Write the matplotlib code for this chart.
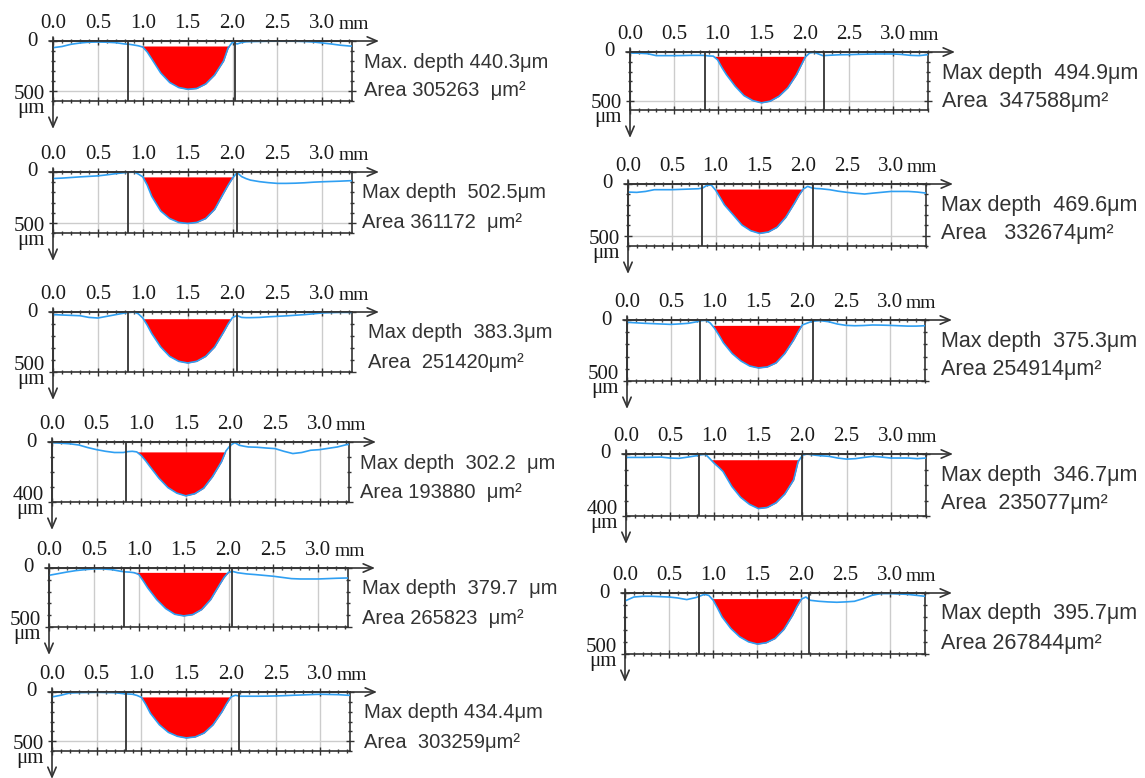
import matplotlib.pyplot as plt
from matplotlib.ticker import MultipleLocator

# shared sampling positions along the profile (mm)
x_mm = [0.0, 0.1, 0.2, 0.3, 0.4, 0.5, 0.6, 0.7, 0.8, 0.85, 0.9, 0.95, 1.0, 1.05,
        1.1, 1.2, 1.3, 1.4, 1.5, 1.6, 1.7, 1.8, 1.9, 1.95, 2.0, 2.05, 2.1, 2.15,
        2.2, 2.3, 2.4, 2.5, 2.6, 2.7, 2.8, 2.9, 3.0, 3.1, 3.2, 3.3, 3.4]

# depth profiles (um), left column
depth_a1 = [67, 55, 33, 20, 12, 10, 12, 17, 30, 33, 40, 48, 60, 110, 180, 320, 415, 465, 483, 475, 430,
            340, 200, 70, 10, 30, 15, 8, 6, 4, 2, 0, 0, 2, 5, 10, 20, 30, 42, 50, 55]
depth_a2 = [64, 60, 54, 48, 43, 38, 28, 16, 6, 3, 0, 20, 48, 130, 240, 384, 458, 496, 506, 496, 458,
            368, 208, 130, 60, 6, 45, 65, 80, 95, 105, 112, 112, 110, 106, 100, 96, 93, 90, 86, 85]
depth_a3 = [22, 25, 28, 31, 45, 50, 36, 22, 8, 4, 0, 15, 50, 110, 180, 292, 370, 411, 425, 411, 370,
            292, 167, 100, 45, 30, 45, 47, 47, 45, 40, 36, 32, 27, 22, 15, 8, 5, 3, 3, 3]
depth_a4 = [4, 8, 12, 20, 37, 51, 62, 70, 70, 64, 62, 66, 90, 125, 165, 242, 304, 341, 359, 345, 308,
            231, 132, 60, 22, 4, 22, 28, 33, 35, 40, 44, 62, 77, 70, 55, 51, 42, 33, 18, 11]
depth_a5 = [62, 48, 34, 22, 14, 8, 8, 14, 28, 33, 35, 40, 55, 110, 169, 268, 344, 392, 406, 395, 352,
            268, 141, 80, 36, 30, 40, 45, 50, 56, 63, 70, 80, 90, 93, 93, 93, 90, 87, 85, 85]
depth_a6 = [50, 33, 10, 7, 5, 3, 5, 7, 17, 20, 23, 35, 55, 130, 217, 333, 410, 450, 467, 457, 417,
            333, 200, 120, 50, 33, 43, 43, 43, 43, 42, 40, 37, 33, 30, 26, 23, 25, 27, 33, 35]
# right column
depth_b1 = [10, 12, 17, 37, 37, 37, 36, 34, 34, 35, 40, 42, 80, 160, 230, 348, 443, 494, 517, 500, 450,
            365, 230, 140, 51, 10, 3, 20, 37, 32, 28, 27, 24, 22, 20, 20, 20, 25, 34, 37, 27]
depth_b2 = [78, 81, 72, 55, 55, 55, 52, 49, 46, 40, 13, 10, 60, 130, 202, 299, 397, 452, 478, 465, 419,
            322, 185, 110, 49, 23, 39, 44, 46, 55, 70, 81, 90, 97, 88, 80, 72, 72, 72, 78, 88]
depth_b3 = [19, 23, 27, 30, 33, 36, 32, 27, 14, 5, 2, 25, 69, 125, 187, 275, 336, 377, 393, 385, 352,
            275, 165, 100, 41, 27, 14, 8, 5, 14, 33, 44, 47, 45, 41, 42, 44, 47, 50, 50, 47]
depth_b4 = [22, 22, 22, 21, 20, 26, 28, 20, 11, 5, 2, 30, 60, 85, 113, 210, 280, 325, 352, 345, 315,
            258, 167, 50, 8, 0, 4, 8, 11, 15, 26, 33, 30, 22, 15, 20, 26, 26, 26, 30, 26]
depth_b5 = [65, 33, 27, 27, 30, 33, 41, 54, 38, 25, 11, 20, 60, 125, 196, 291, 359, 400, 419, 408, 373,
            299, 182, 110, 50, 33, 60, 64, 68, 73, 76, 73, 68, 46, 19, 5, 5, 8, 11, 19, 27]

# reference level of the red area (um)
ref_a = [50, 48, 56, 66, 37, 50]
ref_b = [44, 49, 44, 37, 46]
# depth range of each panel and the labelled depth
ybot_a = [600, 600, 500, 400, 500, 600]
ybot_b = [590, 600, 500, 400, 500]
ylab_a = [500, 500, 500, 400, 500, 500]
ylab_b = [500, 500, 500, 400, 500]
# cursor lines (mm)
marks_a = [(0.83, 2.03), (0.83, 2.05), (0.83, 2.05), (0.83, 2.0), (0.84, 2.04), (0.83, 2.09)]
marks_b = [(0.85, 2.21), (0.84, 2.11), (0.83, 2.12), (0.83, 2.0), (0.84, 2.08)]

depth_text_a = ['Max. depth 440.3\u03bcm', 'Max depth  502.5\u03bcm', 'Max depth  383.3\u03bcm',
                'Max depth  302.2  \u03bcm', 'Max depth  379.7  \u03bcm', 'Max depth 434.4\u03bcm']
area_text_a = ['Area 305263  \u03bcm\u00b2', 'Area 361172  \u03bcm\u00b2', 'Area  251420\u03bcm\u00b2',
               'Area 193880  \u03bcm\u00b2', 'Area 265823  \u03bcm\u00b2', 'Area  303259\u03bcm\u00b2']
depth_text_b = ['Max depth  494.9\u03bcm', 'Max depth  469.6\u03bcm', 'Max depth  375.3\u03bcm',
                'Max depth  346.7\u03bcm', 'Max depth  395.7\u03bcm']
area_text_b = ['Area  347588\u03bcm\u00b2', 'Area   332674\u03bcm\u00b2', 'Area 254914\u03bcm\u00b2',
               'Area  235077\u03bcm\u00b2', 'Area 267844\u03bcm\u00b2']

# layout in pixels: left, top, right, bottom
boxes_a = [(53, 41, 352, 101), (53, 172, 352, 233), (53, 312, 352, 372),
           (52, 442, 349, 502), (49, 568, 348, 627), (52, 692, 350, 751)]
boxes_b = [(630, 52, 928, 110), (628, 184, 926, 246), (627, 320, 925, 381),
           (626, 454, 926, 516), (625, 593, 925, 654)]
text_x_a = [364, 362, 368, 360, 362, 364]
text_x_b = [942, 941, 941, 941, 941]

W, H = 1145, 778
plt.rcParams['font.family'] = ['Liberation Serif', 'DejaVu Serif']
fig = plt.figure(figsize=(W / 100, H / 100), dpi=100)

dark = '#333333'
blue = '#2f9ff2'
lab = '#1a1a1a'


def panel(box, depth, ref, ybot, ylab, marks, xmax, tx, t1, t2, fs):
    l, t, r, b = box
    w, h = r - l, b - t
    ax = fig.add_axes([l / W, 1 - b / H, w / W, h / H])
    ax.set_xlim(0, xmax)
    ax.set_ylim(ybot, 0)
    m0, m1 = marks
    where = [(d > ref) and (m0 < xv < m1) for xv, d in zip(x_mm, depth)]
    ax.fill_between(x_mm, ref, depth, where=where, interpolate=True, color='#ff0000', lw=0, zorder=2)
    ax.plot(x_mm, depth, color=blue, lw=1.2, zorder=3)
    for m in marks:
        ax.axvline(m, color=dark, lw=1.3, zorder=4)

    ax.xaxis.set_major_locator(MultipleLocator(0.5))
    ax.xaxis.set_minor_locator(MultipleLocator(0.1))
    ax.set_yticks([0, ylab])
    ax.yaxis.set_minor_locator(MultipleLocator(100))
    ax.tick_params(axis='both', which='both', direction='inout', color=dark, width=1,
                   top=True, bottom=True, left=True, right=True,
                   labeltop=True, labelbottom=False, labelleft=False)
    ax.tick_params(axis='both', which='major', length=6)
    ax.tick_params(axis='both', which='minor', length=3.5)
    ax.tick_params(axis='x', labelsize=15, pad=3, labelcolor=lab)
    ax.grid(True, which='major', color='#cccccc', lw=1)
    ax.set_axisbelow(True)
    for s in ax.spines.values():
        s.set_color(dark)
        s.set_linewidth(1.2)

    ax.annotate('mm', xy=(3.0, 1), xycoords=ax.get_xaxis_transform(), xytext=(11.5, 6),
                textcoords='offset points', ha='left', va='bottom', fontsize=14, color=lab)
    ax.annotate('0', xy=(0, 1), xycoords='axes fraction', xytext=(-15, 0),
                textcoords='offset pixels', ha='right', va='center', fontsize=15, color=lab)
    # bottom depth label with the unit stacked tightly under it
    ax.annotate(str(ylab) + '\n\u03bcm', xy=(0, 0), xycoords='axes fraction', xytext=(-8, -12),
                textcoords='offset pixels', ha='right', va='baseline', multialignment='right',
                linespacing=0.62, fontsize=15, color=lab)

    # axis arrows
    arrow = dict(arrowstyle='->, head_length=0.7, head_width=0.3', color=dark, lw=1.2,
                 shrinkA=0, shrinkB=0)
    ax.annotate('', xy=(1 + 27 / w, 1), xycoords='axes fraction',
                xytext=(-4 / w, 1), textcoords='axes fraction', arrowprops=arrow)
    ax.annotate('', xy=(0, -28 / h), xycoords='axes fraction',
                xytext=(0, 1 + 4 / h), textcoords='axes fraction', arrowprops=arrow)

    fig.text(tx / W, 1 - (t + 21) / H, t1, ha='left', va='center', fontsize=fs,
             family='Liberation Sans', color='#333333')
    fig.text(tx / W, 1 - (t + 50) / H, t2, ha='left', va='center', fontsize=fs,
             family='Liberation Sans', color='#333333')


depth_a = [depth_a1, depth_a2, depth_a3, depth_a4, depth_a5, depth_a6]
depth_b = [depth_b1, depth_b2, depth_b3, depth_b4, depth_b5]

for i in range(6):
    panel(boxes_a[i], depth_a[i], ref_a[i], ybot_a[i], ylab_a[i], marks_a[i], 3.33,
          text_x_a[i], depth_text_a[i], area_text_a[i], 14.5)
for i in range(5):
    panel(boxes_b[i], depth_b[i], ref_b[i], ybot_b[i], ylab_b[i], marks_b[i], 3.40,
          text_x_b[i], depth_text_b[i], area_text_b[i], 15.5)

fig.savefig('out.png', dpi=100, facecolor='white')
